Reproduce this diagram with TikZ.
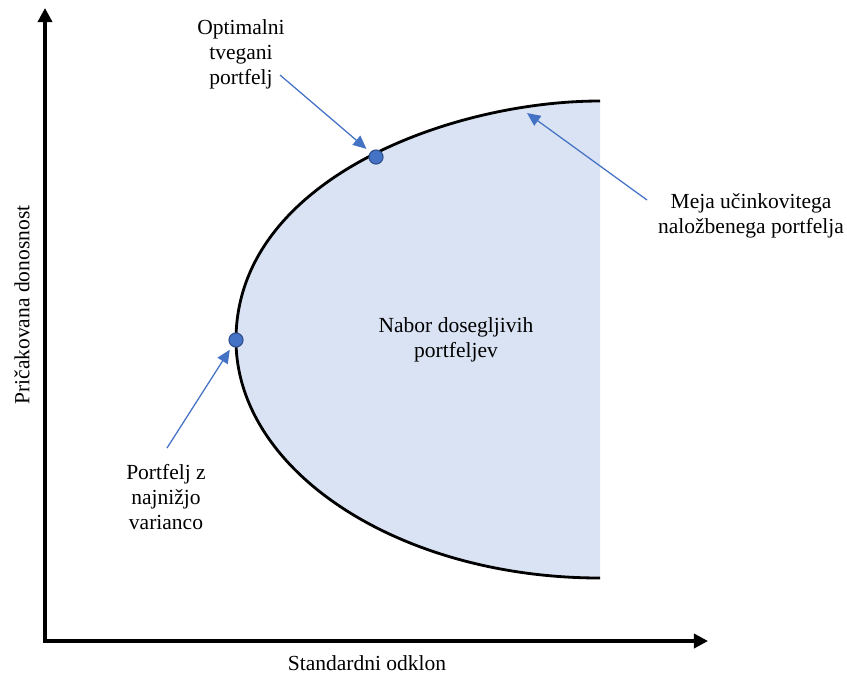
\documentclass[tikz,border=0pt]{standalone}
\usepackage{fontspec}
\setmainfont{Liberation Serif}
\usepackage{tikz}
\usetikzlibrary{arrows.meta,positioning}

\definecolor{setblue}{HTML}{DAE3F3}
\definecolor{dotblue}{HTML}{4472C4}
\definecolor{dotedge}{HTML}{2F528F}

\tikzstyle{txt} = [align=center, inner sep=0pt, font=\fontsize{15.3}{17.8}\selectfont]
\tikzstyle{axis} = [line width=2.4pt, line join=miter,
    {Triangle[length=10pt,width=10pt]}-{Triangle[length=10pt,width=10pt]}]
\tikzstyle{frontier} = [line width=2pt]
\tikzstyle{pointer} = [draw=dotblue, line width=0.9pt, -{Triangle[length=9.5pt,width=8.5pt]}]
\tikzstyle{portdot} = [circle, fill=dotblue, draw=dotedge, line width=0.8pt,
    minimum size=10pt, inner sep=0pt]

\begin{document}
\begin{tikzpicture}[x=0.025cm, y=-0.025cm]
\useasboundingbox (0,0) rectangle (847,673);

% Feasible set
\fill[setblue] (600,101) .. controls (450,101) and (236,180) .. (236,340)
    .. controls (236,471) and (399,578) .. (600,578) -- cycle;

% Efficient frontier
\draw[frontier] (600,101) .. controls (450,101) and (236,180) .. (236,340)
    .. controls (236,471) and (399,578) .. (600,578);

% Axes
\coordinate (ytop) at (45,8);
\coordinate (origin) at (45,641);
\coordinate (xend) at (708,641);
\draw[axis] (ytop) -- (origin) -- (xend);

% Axis labels
\node[txt, rotate=90] (ylab) at (22,305) {Pričakovana donosnost};
\node[txt] (xlab) at (367,663) {Standardni odklon};

% Text nodes
\node[txt] (setlab) at (456,340) {Nabor dosegljivih\\portfeljev};
\node[txt] (optlab) at (241,54) {Optimalni\\tvegani\\portfelj};
\node[txt] (frontlab) at (751,216) {Meja učinkovitega\\naložbenega portfelja};
\node[txt] (minlab) at (166,497) {Portfelj z\\najnižjo\\varianco};

% Portfolios
\node[portdot] (optdot) at (376,157) {};
\node[portdot] (mindot) at (236,340) {};

% Arrows
\coordinate (optfrom) at (280,75);
\coordinate (frontfrom) at (647,200);
\coordinate (frontto) at (527,113);
\coordinate (minfrom) at (167,448);
\draw[pointer, shorten >=3.5pt] (optfrom) -- (optdot);
\draw[pointer] (frontfrom) -- (frontto);
\draw[pointer, shorten >=2.8pt] (minfrom) -- (mindot);

\end{tikzpicture}
\end{document}
